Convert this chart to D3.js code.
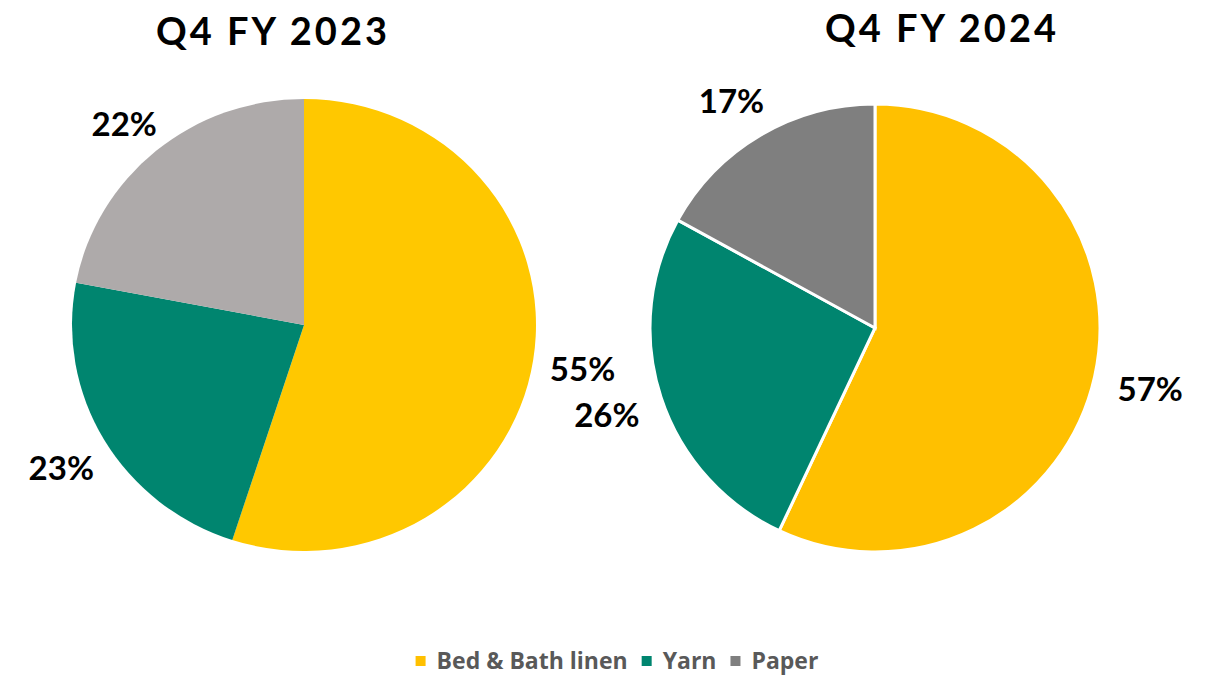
<!DOCTYPE html>
<html>
<head>
<meta charset="utf-8">
<script src="https://cdn.jsdelivr.net/npm/d3@7"></script>
<style>
  body { margin: 0; background: #fff; }
  text { font-family: Lato, "Open Sans", sans-serif; font-weight: bold; }
</style>
</head>
<body>
<svg id="chart" width="1209" height="675"></svg>
<script>
// data
var categories = ['Bed & Bath linen', 'Yarn', 'Paper'];
var fy2023 = [55, 23, 22];
var fy2024 = [57, 26, 17];
var titles = ['Q4 FY 2023', 'Q4 FY 2024'];

var svg = d3.select('#chart');

var pie = d3.pie().sort(null).value(function(d) { return d; });

function drawPie(values, cx, cy, rx, ry, colors, strokeW, title, tx, ty) {
  var g = svg.append('g').attr('transform', 'translate(' + cx + ',' + cy + ')');
  var gs = g.append('g').attr('transform', 'scale(' + (rx / ry) + ',1)');
  var arc = d3.arc().innerRadius(0).outerRadius(ry);
  var labelArc = d3.arc().innerRadius(282).outerRadius(282);
  var arcs = pie(values);

  gs.selectAll('path')
    .data(arcs)
    .enter()
    .append('path')
    .attr('d', arc)
    .attr('fill', function(d, i) { return colors[i]; })
    .attr('stroke', '#fff')
    .attr('stroke-width', strokeW)
    .attr('stroke-linejoin', 'miter');

  // labels sit just outside the pie; the small top slice label drops a bit like excel's best fit
  g.selectAll('text.lbl')
    .data(arcs)
    .enter()
    .append('text')
    .attr('class', 'lbl')
    .attr('transform', function(d) {
      var c = labelArc.centroid(d);
      if (c[1] < -150) c[1] += 16;
      return 'translate(' + c + ')';
    })
    .attr('text-anchor', 'middle')
    .attr('dy', '0.36em')
    .style('font-size', '33px')
    .style('fill', '#000')
    .text(function(d) { return d.data + '%'; });

  svg.append('text')
    .attr('x', tx)
    .attr('y', ty)
    .attr('text-anchor', 'middle')
    .style('font-size', '38px')
    .style('letter-spacing', '3px')
    .style('fill', '#000')
    .text(title);
}

drawPie(fy2023, 304, 325, 232, 226, ['#FFC800', '#00856F', '#AEAAAA'], 0, titles[0], 273, 45);
drawPie(fy2024, 875, 328, 225, 224, ['#FFC000', '#00856F', '#7F7F7F'], 3, titles[1], 942, 42);

// legend
var legendColors = ['#FFC000', '#00856F', '#7F7F7F'];
var legend = svg.append('g').attr('transform', 'translate(0,661)');
var items = legend.selectAll('g')
  .data(categories)
  .enter()
  .append('g');
items.append('rect')
  .attr('x', 0)
  .attr('y', -5)
  .attr('width', 10)
  .attr('height', 10)
  .attr('fill', function(d, i) { return legendColors[i]; });
items.append('text')
  .attr('x', 21)
  .attr('y', 0)
  .attr('dy', '0.35em')
  .style('font-family', '"Open Sans", sans-serif')
  .style('font-size', '23px')
  .style('fill', '#595959')
  .text(function(d) { return d; });

var widths = [];
items.each(function() { widths.push(21 + d3.select(this).select('text').node().getComputedTextLength()); });
var gap = 14;
var total = d3.sum(widths) + gap * (widths.length - 1);
var pos = 617 - total / 2;
items.attr('transform', function(d, i) {
  var x = pos;
  pos += widths[i] + gap;
  return 'translate(' + x + ',0)';
});
</script>
</body>
</html>
